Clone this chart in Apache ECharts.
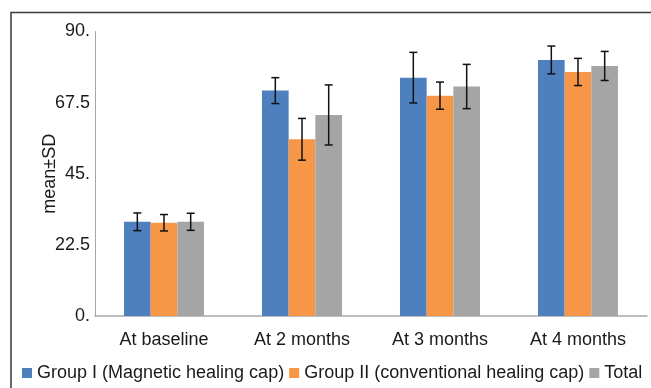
<!DOCTYPE html>
<html>
<head>
<meta charset="utf-8">
<script src="https://cdn.jsdelivr.net/npm/echarts@6/dist/echarts.min.js"></script>
<style>
html,body{margin:0;padding:0;background:#fff;}
#chart{width:651px;height:388px;}
</style>
</head>
<body>
<div id="chart"></div>
<script>
const categories = ['At baseline', 'At 2 months', 'At 3 months', 'At 4 months'];
const seriesNames = ['Group I (Magnetic healing cap)', 'Group II (conventional healing cap)', 'Total'];
const group1Mean = [29.8, 71.3, 75.4, 81.0];
const group1SD = [2.8, 4.1, 8.0, 4.4];
const group2Mean = [29.5, 55.9, 69.7, 77.2];
const group2SD = [2.6, 6.6, 4.3, 4.3];
const totalMean = [29.8, 63.6, 72.6, 79.1];
const totalSD = [2.7, 9.5, 7.0, 4.6];
const yTickValues = [0, 22.5, 45, 67.5, 90];
const yTickLabels = ['0.', '22.5', '45.', '67.5', '90.'];
const yAxisTitle = 'mean±SD';

const colors = ['#4e80bf', '#f79646', '#a5a5a5'];
const means = [group1Mean, group2Mean, totalMean];
const sds = [group1SD, group2SD, totalSD];
const catGapFrac = 0.42;
const font = '"Liberation Sans", Arial, sans-serif';

const chart = echarts.init(document.getElementById('chart'));

const barSeries = seriesNames.map((name, s) => ({
  name: name,
  type: 'bar',
  data: means[s],
  barGap: '0%',
  barCategoryGap: (catGapFrac * 100) + '%',
  itemStyle: { color: colors[s] },
  z: 2
}));

const errSeries = seriesNames.map((name, s) => ({
  name: 'err' + s,
  type: 'custom',
  z: 5,
  encode: { x: 0, y: 1 },
  data: means[s].map((m, i) => [i, m, sds[s][i]]),
  renderItem: function (params, api) {
    const ci = api.value(0), m = api.value(1), sd = api.value(2);
    const band = api.size([1, 0])[0];
    const barW = band * (1 - catGapFrac) / 3;
    const x = api.coord([ci, m])[0] + (s - 1) * barW;
    const yTop = api.coord([ci, m + sd])[1];
    const yBot = api.coord([ci, m - sd])[1];
    const cap = 4;
    const st = { stroke: '#111', lineWidth: 1.5 };
    return {
      type: 'group',
      children: [
        { type: 'line', shape: { x1: x, y1: yTop, x2: x, y2: yBot }, style: st },
        { type: 'line', shape: { x1: x - cap, y1: yTop, x2: x + cap, y2: yTop }, style: st },
        { type: 'line', shape: { x1: x - cap, y1: yBot, x2: x + cap, y2: yBot }, style: st }
      ]
    };
  }
}));

chart.setOption({
  animation: false,
  textStyle: { fontFamily: font },
  graphic: [{
    type: 'rect',
    shape: { x: 11, y: 12.5, width: 700, height: 420 },
    style: { fill: 'none', stroke: '#3a3a3a', lineWidth: 1.5 },
    silent: true,
    z: -10
  }],
  grid: { left: 95, right: 4, top: 31.5, bottom: 72, containLabel: false },
  legend: {
    data: seriesNames,
    left: 22,
    top: 364,
    padding: 0,
    itemWidth: 10,
    itemHeight: 10,
    itemGap: 5,
    icon: 'rect',
    textStyle: { fontSize: 18, color: '#1a1a1a', fontFamily: font }
  },
  xAxis: {
    type: 'category',
    data: categories,
    axisLine: { lineStyle: { color: '#a6a6a6', width: 1.5 } },
    axisTick: { show: false },
    axisLabel: { fontSize: 18, color: '#1a1a1a', margin: 15, fontFamily: font }
  },
  yAxis: {
    type: 'value',
    min: 0,
    max: 90,
    interval: 22.5,
    name: yAxisTitle,
    nameLocation: 'middle',
    nameGap: 36,
    nameMoveOverlap: false,
    nameTextStyle: { fontSize: 18, color: '#1a1a1a', fontFamily: font },
    axisLine: { show: true, lineStyle: { color: '#a6a6a6', width: 1 } },
    axisTick: { show: false },
    splitLine: { show: false },
    axisLabel: {
      fontSize: 18, color: '#1a1a1a', margin: 5, fontFamily: font,
      formatter: function (v) {
        const i = yTickValues.findIndex(t => Math.abs(t - v) < 1e-6);
        return i >= 0 ? yTickLabels[i] : '';
      }
    }
  },
  series: barSeries.concat(errSeries)
});
</script>
</body>
</html>
